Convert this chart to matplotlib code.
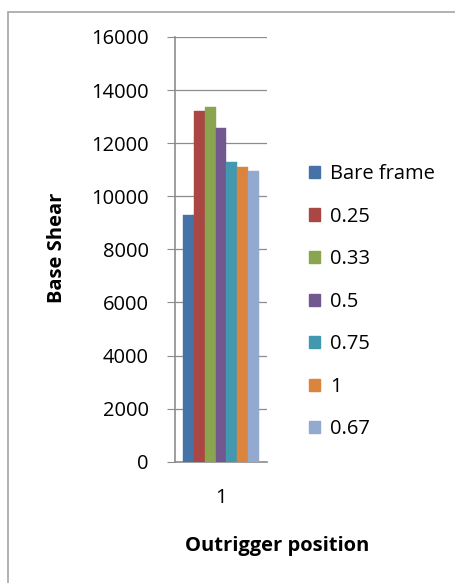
import matplotlib.pyplot as plt
import numpy as np
from matplotlib.patches import Rectangle, Patch

# base shear per outrigger case
series = ["Bare frame", "0.25", "0.33", "0.5", "0.75", "1", "0.67"]
base_shear = [9290, 13200, 13380, 12560, 11300, 11110, 10970]
colors = ["#4572A7", "#AA4643", "#89A54E", "#71588F", "#4198AF", "#DB843D", "#93A9CF"]
categories = ["1"]

plt.rcParams["font.family"] = ["Open Sans", "DejaVu Sans"]
FS = 14.5

fig = plt.figure(figsize=(4.56, 5.83), dpi=100)
W, H = 456, 583

# chart frame
fig.patches.append(Rectangle((8 / W, -0.2), 1.2, 1.2 - 12 / H, transform=fig.transFigure,
                             fill=False, edgecolor="#A6A6A6", linewidth=1.2))

ax = fig.add_axes([175 / W, 1 - 461.7 / H, 92 / W, (461.7 - 37) / H])

n = len(series)
bar_w = 0.82 / n
x0 = -bar_w * n / 2
for i, (name, v, c) in enumerate(zip(series, base_shear, colors)):
    ax.bar(x0 + bar_w * (i + 0.5), v, width=bar_w, color=c, label=name,
           edgecolor=c, linewidth=0.3, zorder=3)

ax.set_xlim(-0.5, 0.5)
ax.set_ylim(0, 16000)
ax.set_yticks(np.arange(0, 16001, 2000))
ax.set_xticks([0])
ax.set_xticklabels(categories)
ax.yaxis.grid(True, color="#8C8C8C", linewidth=0.9, zorder=0)

for s in ["top", "right"]:
    ax.spines[s].set_visible(False)
ax.spines["left"].set_color("#8C8C8C")
ax.spines["bottom"].set_color("#8C8C8C")
ax.spines["left"].set_linewidth(1.2)
ax.spines["bottom"].set_linewidth(1.2)

ax.tick_params(axis="y", direction="out", length=6, color="#8C8C8C", pad=13, labelsize=FS)
ax.tick_params(axis="x", length=0, pad=19, labelsize=FS)

fig.text(57 / W, 1 - 248 / H, "Base Shear", rotation=90, ha="center", va="center",
         fontsize=FS, fontweight="bold")
fig.text(277 / W, 1 - 546 / H, "Outrigger position", ha="center", va="center",
         fontsize=FS, fontweight="bold")

handles = [Patch(facecolor=c, edgecolor=c) for c in colors]
fig.legend(handles, series, loc="upper left", bbox_to_anchor=(293 / W, 1 - 148 / H),
           frameon=False, fontsize=FS, handlelength=0.55, handleheight=0.55,
           handletextpad=0.5, labelspacing=1.12, borderpad=0.3)

fig.savefig("out.png", dpi=100)
